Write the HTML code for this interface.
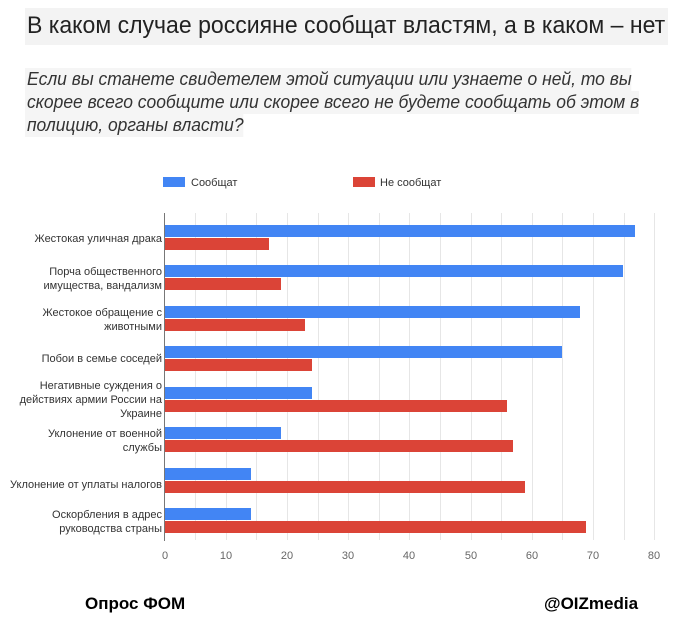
<!DOCTYPE html>
<html><head><meta charset="utf-8"><style>
body{margin:0;background:#fff;width:700px;height:622px;overflow:hidden;font-family:"Liberation Sans","DejaVu Sans",sans-serif}
.t{position:absolute;left:25px;top:8px;width:643px;height:37px;background:#f3f3f3}
.tt{position:absolute;left:27px;top:8px;font-size:24px;color:#222;line-height:36px;white-space:nowrap;transform:scaleX(0.96);transform-origin:0 0}
.s{position:absolute;left:25px;font-size:18px;font-style:italic;color:#333;line-height:23px;background:#f5f5f5;padding-left:2px;white-space:nowrap;transform:scaleX(0.97);transform-origin:0 0}
.f{position:absolute;top:594px;font-size:17px;font-weight:bold;color:#000}
</style></head><body>
<div class="t"></div>
<div class="tt">В каком случае россияне сообщат властям, а в каком – нет</div>
<div class="s" style="top:68px">Если вы станете свидетелем этой ситуации или узнаете о ней, то вы</div>
<div class="s" style="top:91px">скорее всего сообщите или скорее всего не будете сообщать об этом в</div>
<div class="s" style="top:114px">полицию, органы власти?</div>
<svg style="position:absolute;left:0;top:0" width="700" height="622" font-family="Liberation Sans, sans-serif" font-size="11" fill="#333">
<rect x="163" y="177" width="22" height="10" fill="#4285f4"/><text x="191" y="186">Сообщат</text>
<rect x="353" y="177" width="22" height="10" fill="#db4437"/><text x="380" y="186">Не сообщат</text>
<g stroke="#e6e6e6" stroke-width="1">
<line x1="195.5" y1="213" x2="195.5" y2="540"/><line x1="226.5" y1="213" x2="226.5" y2="540"/><line x1="256.5" y1="213" x2="256.5" y2="540"/><line x1="287.5" y1="213" x2="287.5" y2="540"/><line x1="318.5" y1="213" x2="318.5" y2="540"/><line x1="348.5" y1="213" x2="348.5" y2="540"/><line x1="379.5" y1="213" x2="379.5" y2="540"/><line x1="409.5" y1="213" x2="409.5" y2="540"/><line x1="440.5" y1="213" x2="440.5" y2="540"/><line x1="471.5" y1="213" x2="471.5" y2="540"/><line x1="501.5" y1="213" x2="501.5" y2="540"/><line x1="532.5" y1="213" x2="532.5" y2="540"/><line x1="562.5" y1="213" x2="562.5" y2="540"/><line x1="593.5" y1="213" x2="593.5" y2="540"/><line x1="624.5" y1="213" x2="624.5" y2="540"/><line x1="654.5" y1="213" x2="654.5" y2="540"/>
</g>
<g fill="#4285f4">
<rect x="165" y="225" width="470" height="12"/><rect x="165" y="265" width="458" height="12"/><rect x="165" y="306" width="415" height="12"/><rect x="165" y="346" width="397" height="12"/><rect x="165" y="387" width="147" height="12"/><rect x="165" y="427" width="116" height="12"/><rect x="165" y="468" width="86" height="12"/><rect x="165" y="508" width="86" height="12"/>
</g>
<g fill="#db4437">
<rect x="165" y="238" width="104" height="12"/><rect x="165" y="278" width="116" height="12"/><rect x="165" y="319" width="140" height="12"/><rect x="165" y="359" width="147" height="12"/><rect x="165" y="400" width="342" height="12"/><rect x="165" y="440" width="348" height="12"/><rect x="165" y="481" width="360" height="12"/><rect x="165" y="521" width="421" height="12"/>
</g>
<line x1="164.5" y1="213" x2="164.5" y2="541" stroke="#777"/>
<g text-anchor="end">
<text x="162" y="242">Жестокая уличная драка</text>
<text x="162" y="275">Порча общественного</text><text x="162" y="289">имущества, вандализм</text>
<text x="162" y="316">Жестокое обращение с</text><text x="162" y="330">животными</text>
<text x="162" y="362">Побои в семье соседей</text>
<text x="162" y="389">Негативные суждения о</text><text x="162" y="403">действиях армии России на</text><text x="162" y="417">Украине</text>
<text x="162" y="437">Уклонение от военной</text><text x="162" y="451">службы</text>
<text x="162" y="488">Уклонение от уплаты налогов</text>
<text x="162" y="518">Оскорбления в адрес</text><text x="162" y="532">руководства страны</text>
</g>
<g text-anchor="middle" fill="#666">
<text x="165" y="559">0</text><text x="226" y="559">10</text><text x="287" y="559">20</text><text x="348" y="559">30</text><text x="409" y="559">40</text><text x="471" y="559">50</text><text x="532" y="559">60</text><text x="593" y="559">70</text><text x="654" y="559">80</text>
</g>
</svg>
<div class="f" style="left:85px">Опрос ФОМ</div>
<div class="f" style="left:544px">@OIZmedia</div>
</body></html>
